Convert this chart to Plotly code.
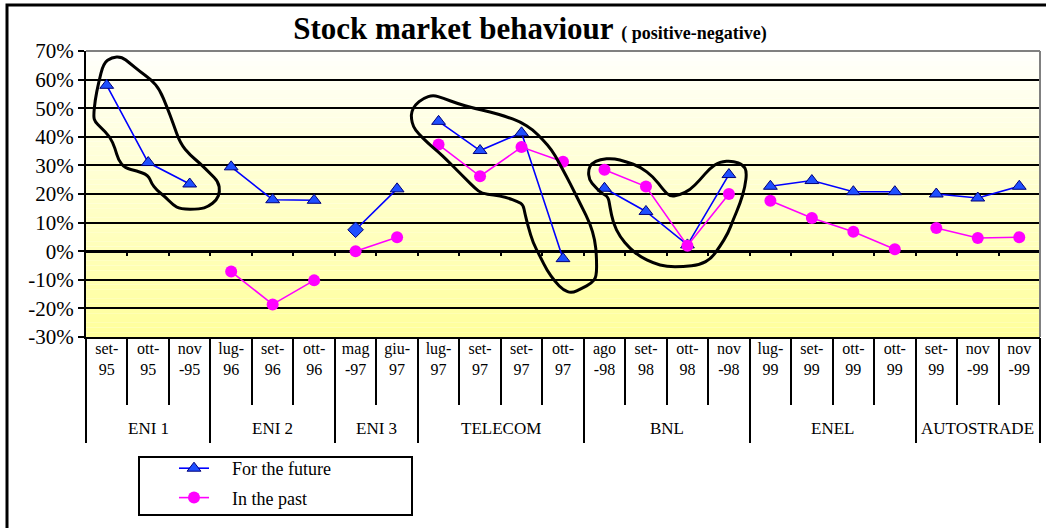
import plotly.graph_objects as go

# ---------------- data ----------------
groups = ["ENI 1", "ENI 2", "ENI 3", "TELECOM", "BNL", "ENEL", "AUTOSTRADE"]
group_sizes = [3, 3, 2, 4, 4, 4, 3]
period_labels = [
    "set-<br>95", "ott-<br>95", "nov<br>-95",
    "lug-<br>96", "set-<br>96", "ott-<br>96",
    "mag<br>-97", "giu-<br>97",
    "lug-<br>97", "set-<br>97", "set-<br>97", "ott-<br>97",
    "ago<br>-98", "set-<br>98", "ott-<br>98", "nov<br>-98",
    "lug-<br>99", "set-<br>99", "ott-<br>99", "ott-<br>99",
    "set-<br>99", "nov<br>-99", "nov<br>-99",
]
future = [58, 31, 23.5, 29.5, 18, 17.8, 7.5, 21.8, 45.4, 35.2, 41.4, -2.6,
          22, 13.9, 2.2, 26.8, 22.7, 24.7, 20.8, 20.8, 20, 18.6, 22.7]
past = [None, None, None, -7.1, -18.6, -10.2, 0, 4.9, 37.3, 26.2, 36.4, 31.3,
        28.5, 22.6, 1.9, 20, 17.6, 11.6, 6.8, 0.7, 8.1, 4.6, 4.9]
y_ticks = [-30, -20, -10, 0, 10, 20, 30, 40, 50, 60, 70]
y_tick_labels = [f"{v}%" for v in y_ticks]

# hand-drawn outlines (category index, percent)
lasso_eni1 = [(-0.32, 47.0), (-0.28, 52.9), (-0.20, 58.7), (-0.08, 65.7), (0.12, 67.8), (0.36, 68.0),
              (0.56, 65.7), (0.80, 62.8), (1.08, 59.9), (1.28, 56.4), (1.45, 50.5), (1.60, 44.7),
              (1.77, 37.7), (2.01, 33.6), (2.25, 30.7), (2.49, 27.2), (2.69, 24.3), (2.73, 20.8),
              (2.65, 17.9), (2.45, 15.6), (2.25, 14.7), (1.77, 14.7), (1.60, 16.2), (1.40, 19.1),
              (1.20, 21.4), (1.08, 23.7), (1.00, 26.6), (0.72, 28.1), (0.44, 29.0), (0.28, 31.9),
              (0.20, 36.0), (0.08, 40.0), (-0.16, 43.5), (-0.28, 45.3)]
lasso_telecom = [(7.35, 48.8), (7.43, 51.1), (7.63, 53.5), (7.87, 54.6), (8.11, 53.5), (8.44, 51.7),
                 (8.84, 50.0), (9.24, 48.8), (9.64, 47.0), (9.96, 45.3), (10.28, 42.4), (10.52, 38.9),
                 (10.73, 35.4), (10.89, 31.3), (11.09, 26.0), (11.25, 21.4), (11.45, 15.6), (11.65, 9.8),
                 (11.77, 3.9), (11.81, -1.9), (11.81, -8.9), (11.69, -11.2), (11.45, -13.0), (11.21, -14.7),
                 (11.01, -13.6), (10.81, -10.7), (10.61, -6.6), (10.45, -1.9), (10.28, 2.8), (10.16, 8.6),
                 (10.08, 13.3), (10.04, 16.2), (9.92, 17.3), (9.64, 18.8), (9.32, 19.7), (9.04, 20.2),
                 (8.88, 22.0), (8.68, 24.9), (8.44, 28.4), (8.20, 31.9), (7.99, 34.8), (7.75, 37.7),
                 (7.51, 41.2), (7.39, 43.5), (7.34, 46.5)]
lasso_bnl = [(11.61, 28.4), (11.69, 30.7), (11.89, 32.1), (12.21, 32.5), (12.53, 31.3), (12.86, 29.5),
             (13.18, 26.0), (13.42, 21.4), (13.58, 19.1), (13.82, 19.7), (14.06, 21.4), (14.30, 24.9),
             (14.54, 29.0), (14.78, 31.3), (15.10, 31.6), (15.35, 30.1), (15.43, 27.8), (15.39, 22.6),
             (15.27, 16.7), (15.10, 10.9), (14.98, 6.3), (14.78, 1.6), (14.58, -2.5), (14.30, -4.8),
             (13.90, -5.4), (13.50, -5.4), (13.18, -4.2), (12.86, -1.9), (12.61, 1.0), (12.37, 5.1),
             (12.21, 9.8), (12.13, 15.6), (12.09, 19.1), (11.93, 20.2), (11.77, 22.6), (11.63, 24.9)]

# ---------------- layout constants ----------------
W, H = 1046, 528
ML, MR, MT, MB = 86, 6, 51, 191
PW, PH = W - ML - MR, H - MT - MB
FONT = "Liberation Serif, Times New Roman, serif"
n = len(period_labels)
xs = list(range(n))
YMIN, YMAX = -30, 70
PAD = "\u00a0\u00a0\u00a0\u00a0"


def px_to_paper(px, py):
    return (px - ML) / PW, (MT + PH - py) / PH


def smooth_path(pts):
    m = len(pts)
    mids = [((pts[i][0] + pts[(i + 1) % m][0]) / 2, (pts[i][1] + pts[(i + 1) % m][1]) / 2) for i in range(m)]
    d = f"M {mids[-1][0]},{mids[-1][1]}"
    for i in range(m):
        d += f" Q {pts[i][0]},{pts[i][1]} {mids[i][0]},{mids[i][1]}"
    return d + " Z"


fig = go.Figure()

# group boundaries
starts = []
s = 0
for g in group_sizes:
    starts.append(s)
    s += g
group_bounds = [st - 0.5 for st in starts] + [n - 0.5]
inner_bounds = [i + 0.5 for i in range(n - 1)]

fut_symbols = ["diamond" if lab == "mag<br>-97" else "triangle-up" for lab in period_labels]

for gi, (st, sz) in enumerate(zip(starts, group_sizes)):
    idx = list(range(st, st + sz))
    fig.add_trace(go.Scatter(
        x=idx, y=[future[i] for i in idx], mode="lines+markers",
        name=PAD + "For the future", legendgroup="future", showlegend=(gi == 0),
        line=dict(color="#0000ff", width=1.6),
        marker=dict(symbol=[fut_symbols[i] for i in idx], size=12, color="#1f4fff",
                    line=dict(color="#00007a", width=1)),
    ))
for gi, (st, sz) in enumerate(zip(starts, group_sizes)):
    idx = list(range(st, st + sz))
    fig.add_trace(go.Scatter(
        x=idx, y=[past[i] for i in idx], mode="lines+markers",
        name=PAD + "In the past", legendgroup="past", showlegend=(gi == 0), connectgaps=False,
        line=dict(color="#ff00ff", width=1.6),
        marker=dict(symbol="circle", size=12, color="#ff00ff"),
    ))

# helper traces to activate overlay axes (no visible marks)
for ax in ["x2", "x3"]:
    fig.add_trace(go.Scatter(x=[-0.5, n - 0.5], y=[None, None], xaxis=ax, yaxis="y",
                             mode="lines", showlegend=False, hoverinfo="skip"))

shapes = []
# gradient background bands
NB = 60
for i in range(NB):
    t0, t1 = i / NB, (i + 1) / NB
    tm = (t0 + t1) / 2  # 0 at bottom, 1 at top
    b = int(round(155 + (252 - 155) * tm))
    shapes.append(dict(type="rect", xref="paper", yref="paper", x0=0, x1=1, y0=t0, y1=t1,
                       fillcolor=f"rgb(255,255,{b})", line=dict(width=0), layer="below"))
# plot border (top, right) gray
shapes.append(dict(type="line", xref="paper", yref="paper", x0=0, x1=1, y0=1, y1=1,
                   line=dict(color="#808080", width=2), layer="above"))
shapes.append(dict(type="line", xref="paper", yref="paper", x0=1, x1=1, y0=0, y1=1,
                   line=dict(color="#808080", width=2), layer="above"))
# outer chart frame
fx0, fy1 = px_to_paper(7, 5)
fx1, fy0 = px_to_paper(1060, 540)
shapes.append(dict(type="rect", xref="paper", yref="paper", x0=fx0, x1=fx1, y0=fy0, y1=fy1,
                   line=dict(color="black", width=3), fillcolor="rgba(0,0,0,0)", layer="above"))
# legend box
lx0, ly1 = px_to_paper(139, 457)
lx1, ly0 = px_to_paper(412, 515)
shapes.append(dict(type="rect", xref="paper", yref="paper", x0=lx0, x1=lx1, y0=ly0, y1=ly1,
                   line=dict(color="black", width=2), fillcolor="rgba(0,0,0,0)", layer="above"))
# hand-drawn outlines
for pts in [lasso_eni1, lasso_telecom, lasso_bnl]:
    shapes.append(dict(type="path", xref="x", yref="y", path=smooth_path(pts),
                       line=dict(color="black", width=3), layer="above"))

annotations = []
gl_y = px_to_paper(0, 428)[1]
for g, st, sz in zip(groups, starts, group_sizes):
    annotations.append(dict(x=st + (sz - 1) / 2, y=gl_y, xref="x", yref="paper", text=g,
                            showarrow=False, xanchor="center", yanchor="middle",
                            font=dict(family=FONT, size=17, color="black")))

leg_x, leg_y = px_to_paper(174, 450)

fig.update_layout(
    width=W, height=H,
    margin=dict(l=ML, r=MR, t=MT, b=MB, pad=0),
    paper_bgcolor="white", plot_bgcolor="rgba(0,0,0,0)",
    font=dict(family=FONT, color="black"),
    title=dict(
        text="<b>Stock market behaviour</b> <b><span style='font-size:18px'>( positive-negative)</span></b>",
        x=530 / W, xanchor="center", xref="container",
        y=1 - 28 / H, yanchor="middle", yref="container",
        font=dict(family=FONT, size=31, color="black"),
    ),
    xaxis=dict(
        range=[-0.5, n - 0.5], tickmode="array", tickvals=xs, ticktext=period_labels,
        ticks="", showgrid=False, zeroline=False, ticklabelstandoff=-4,
        showline=True, linecolor="black", linewidth=2,
        tickfont=dict(family=FONT, size=16, color="black"),
        minor=dict(tickmode="array", tickvals=inner_bounds, ticks="outside", ticklen=66,
                   tickwidth=2, tickcolor="black", showgrid=False),
    ),
    xaxis2=dict(
        overlaying="x", anchor="y", side="bottom", range=[-0.5, n - 0.5],
        tickmode="array", tickvals=group_bounds, ticks="outside", ticklen=105,
        tickwidth=2, tickcolor="black", showticklabels=False, showgrid=False,
        zeroline=False, showline=False,
    ),
    xaxis3=dict(
        overlaying="x", anchor="free", position=(0 - YMIN) / (YMAX - YMIN), side="bottom",
        range=[-0.5, n - 0.5], tickmode="array", tickvals=inner_bounds, ticks="outside",
        ticklen=4, tickwidth=2, tickcolor="black", showticklabels=False, showgrid=False,
        zeroline=False, showline=False,
    ),
    yaxis=dict(
        range=[YMIN, YMAX], tickmode="array", tickvals=y_ticks, ticktext=y_tick_labels,
        ticks="outside", ticklen=6, tickwidth=2, tickcolor="black",
        showline=True, linecolor="black", linewidth=2,
        showgrid=True, gridcolor="black", gridwidth=1.6,
        zeroline=True, zerolinecolor="black", zerolinewidth=3,
        tickfont=dict(family=FONT, size=21, color="black"),
    ),
    legend=dict(
        x=leg_x, y=leg_y, xanchor="left", yanchor="top",
        bgcolor="rgba(0,0,0,0)", borderwidth=0, tracegroupgap=3,
        font=dict(family=FONT, size=18, color="black"),
    ),
    shapes=shapes,
    annotations=annotations,
    showlegend=True,
)

fig.write_html("out.html")
